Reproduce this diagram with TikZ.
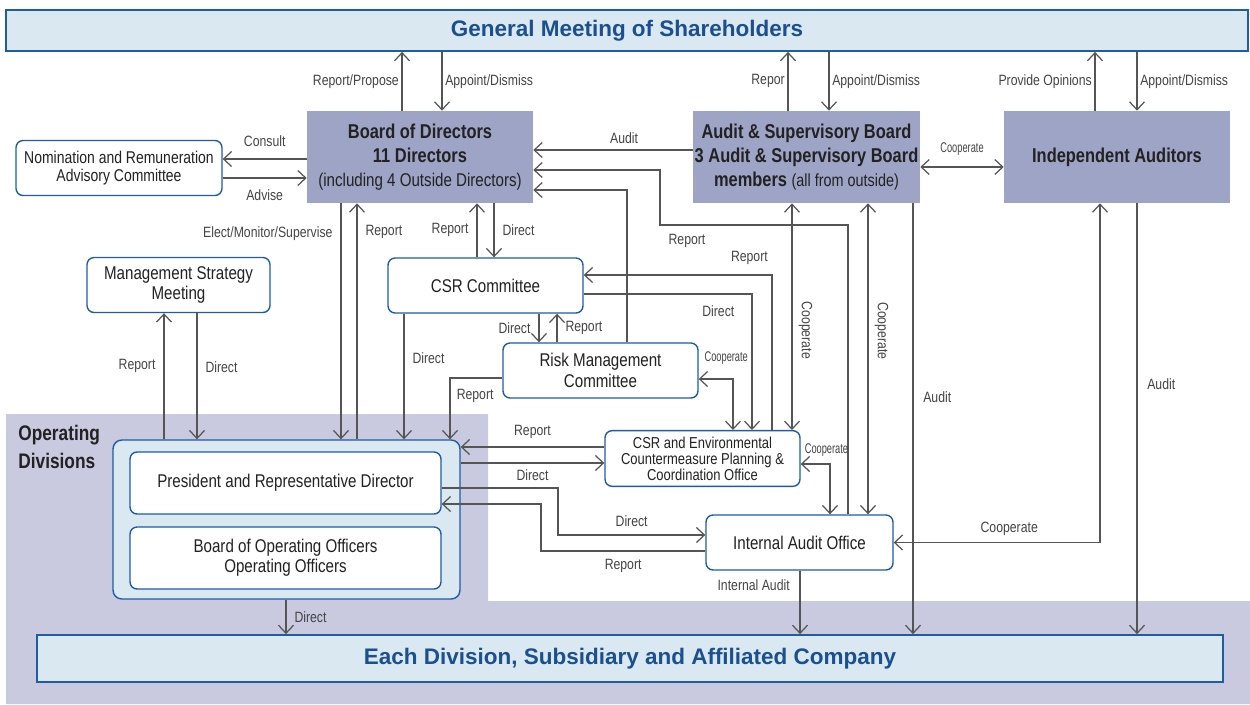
\documentclass[tikz,border=0pt]{standalone}
\usepackage{fontspec}
\setmainfont{Liberation Sans}[FakeStretch=0.82]
\newfontfamily\titlefont{Liberation Sans}
\newfontfamily\narrowfont{Liberation Sans}[FakeStretch=0.66]
\usetikzlibrary{arrows.meta,positioning}

\definecolor{hdrblue}{HTML}{1B4F8E}
\definecolor{hdrfill}{HTML}{D9E8F1}
\definecolor{boardfill}{HTML}{9EA4C6}
\definecolor{opsfill}{HTML}{C9CADF}
\definecolor{boxline}{HTML}{1F5CA3}
\definecolor{linegray}{HTML}{555555}
\definecolor{txtdark}{HTML}{222222}

\tikzset{
  hdr/.style={draw=boxline, line width=1pt, fill=hdrfill, text=hdrblue,
    font=\titlefont\bfseries\fontsize{12.8}{14}\selectfont},
  board/.style={fill=boardfill, text=txtdark, align=center, inner xsep=0.5pt,
    minimum height=1.84cm, font=\bfseries\fontsize{11.4}{13.6}\selectfont},
  unit/.style={draw=boxline, line width=0.8pt, fill=white, rounded corners=4pt,
    align=center, text=txtdark, minimum height=1.1cm,
    font=\fontsize{10.5}{11.6}\selectfont},
  opsbox/.style={draw=boxline, line width=0.8pt, fill=hdrfill, rounded corners=5pt},
  lbl/.style={font=\fontsize{8.5}{9}\selectfont, text=linegray!80!black, inner sep=1.5pt},
  lbls/.style={font=\narrowfont\fontsize{8}{9}\selectfont, text=linegray!80!black, inner sep=1pt},
  arr/.style={draw=linegray, line width=0.7pt, -{Straight Barb[length=1.6mm,width=3mm]}},
  arr2/.style={draw=linegray, line width=0.7pt,
    {Straight Barb[length=1.6mm,width=3mm]}-{Straight Barb[length=1.6mm,width=3mm]}},
}

\begin{document}
\begin{tikzpicture}[x=0.02cm, y=-0.02cm]
\useasboundingbox (0,0) rectangle (1250,704);

% operating divisions area
\fill[opsfill] (6,414) -- (488,414) -- (488,601) -- (1250,601) -- (1250,704) -- (6,704) -- cycle;
\node[anchor=north west, align=left, inner sep=0pt, text=txtdark,
  font=\bfseries\fontsize{12}{16}\selectfont] (opslbl) at (18,425) {Operating\\Divisions};

% top and bottom bars
\node[hdr, minimum width=24.84cm, minimum height=0.82cm] (gm) at (627,30.5) {General Meeting of Shareholders};
\node[hdr, minimum width=23.72cm, minimum height=0.94cm] (ediv) at (630,658.5) {Each Division, Subsidiary and Affiliated Company};

% boards
\node[board, minimum width=4.52cm] (bod) at (420,157)
  {Board of Directors\\11 Directors\\{\mdseries\fontsize{10.5}{13.6}\selectfont (including 4 Outside Directors)}};
\node[board, minimum width=4.54cm] (asb) at (806.5,157)
  {Audit \& Supervisory Board\\3 Audit \& Supervisory Board\\members {\mdseries\fontsize{10}{13.6}\selectfont (all from outside)}};
\node[board, minimum width=4.52cm] (ia) at (1117,157) {Independent Auditors};

% committees and offices
\node[unit, minimum width=4.12cm, font=\fontsize{9.7}{10.2}\selectfont] (nrac) at (119,168) {Nomination and Remuneration\\Advisory Committee};
\node[unit, minimum width=3.66cm] (msm) at (178.5,285) {Management Strategy\\Meeting};
\node[unit, minimum width=3.9cm] (csr) at (485.5,285.5) {CSR Committee};
\node[unit, minimum width=3.9cm] (rmc) at (600.5,370.5) {Risk Management\\Committee};
\node[unit, minimum width=3.9cm, font=\fontsize{9}{9.2}\selectfont] (csro) at (702.5,458.5) {CSR and Environmental\\Countermeasure Planning \&\\Coordination Office};
\node[unit, minimum width=3.74cm] (iao) at (799.5,542.5) {Internal Audit Office};

% operating divisions
\node[opsbox, minimum width=6.94cm, minimum height=3.18cm] (ops) at (286.5,519.5) {};
\node[unit, minimum width=6.22cm, minimum height=1.24cm] (pres) at (285.5,483) {President and Representative Director};
\node[unit, minimum width=6.22cm, minimum height=1.24cm] (boo) at (285.5,558) {Board of Operating Officers\\Operating Officers};

% shareholders
\draw[arr] (402,0 |- bod.north) -- (402,0 |- gm.south) node[lbl,midway,left] {Report/Propose};
\draw[arr] (442,0 |- gm.south) -- (442,0 |- bod.north) node[lbl,midway,right] {Appoint/Dismiss};
\draw[arr] (788,0 |- asb.north) -- (788,0 |- gm.south) node[lbl,midway,left] {Repor};
\draw[arr] (829,0 |- gm.south) -- (829,0 |- asb.north) node[lbl,midway,right] {Appoint/Dismiss};
\draw[arr] (1095,0 |- ia.north) -- (1095,0 |- gm.south) node[lbl,midway,left] {Provide Opinions};
\draw[arr] (1137,0 |- gm.south) -- (1137,0 |- ia.north) node[lbl,midway,right] {Appoint/Dismiss};

% board of directors
\draw[arr] (0,159 -| bod.west) -- (0,159 -| nrac.east) node[lbl,midway,above=5pt] {Consult};
\draw[arr] (0,178 -| nrac.east) -- (0,178 -| bod.west) node[lbl,midway,below=5pt] {Advise};
\draw[arr] (0,150 -| asb.west) -- (0,150 -| bod.east) node[lbl,pos=0.43,above=2pt] {Audit};
\draw[arr] (848,0 |- iao.north) |- (660,225) |- (0,170 -| bod.east);
\node[lbl] (iaorep) at (687,241) {Report};
\draw[arr] (627,0 |- rmc.north) |- (0,190 -| bod.east);
\draw[arr] (341,0 |- bod.south) -- (341,0 |- ops.north) node[lbl,pos=0.13,left=3pt] {Elect/Monitor/Supervise};
\draw[arr] (357,0 |- ops.north) -- (357,0 |- bod.south) node[lbl,pos=0.88,right=3pt] {Report};
\draw[arr] (477,0 |- csr.north) -- (477,0 |- bod.south) node[lbl,midway,left=3pt] {Report};
\draw[arr] (494,0 |- bod.south) -- (494,0 |- csr.north) node[lbl,midway,right=3pt] {Direct};

% committees
\draw[arr] (404,0 |- csr.south) -- (404,0 |- ops.north) node[lbl,pos=0.35,right=3pt] {Direct};
\draw[arr] (0,378 -| rmc.west) -| (450,0 |- ops.north) node[lbl,pos=0.65,right=2pt] {Report};
\draw[arr] (539,0 |- csr.south) -- (539,0 |- rmc.north) node[lbl,midway,left=3pt] {Direct};
\draw[arr] (557,0 |- rmc.north) -- (557,0 |- csr.south) node[lbl,midway,right=3pt] {Report};
\draw[arr] (772,0 |- csro.north) |- (0,275 -| csr.east) node[lbl,pos=0.56,above=4pt] {Report};
\draw[arr] (0,294 -| csr.east) -| (752,0 |- csro.north) node[lbl,pos=0.4,below=5pt] {Direct};
\draw[arr2] (0,379 -| rmc.east) -| (733,0 |- csro.north) node[lbls,pos=0,above right=7pt and 2pt] {Cooperate};
\draw[arr2] (0,464 -| csro.east) -| (830,0 |- iao.north) node[lbls,pos=0,above right=3pt and 1pt] {Cooperate};

% audit side
\draw[arr2] (asb.east |- 0,167) -- (ia.west |- 0,167) node[lbls,midway,above=5pt] {Cooperate};
\draw[arr2] (792,0 |- asb.south) -- (792,0 |- csro.north) node[lbl,pos=0.56,sloped,above=2pt] {Cooperate};
\draw[arr2] (868,0 |- asb.south) -- (868,0 |- iao.north) node[lbl,pos=0.41,sloped,above=2pt] {Cooperate};
\draw[arr] (913,0 |- asb.south) -- (913,0 |- ediv.north) node[lbl,pos=0.45,right=4pt] {Audit};
\draw[arr] (1137,0 |- ia.south) -- (1137,0 |- ediv.north) node[lbl,pos=0.42,right=4pt] {Audit};
\draw[arr2] (iao.east) -| (1100,0 |- ia.south) node[lbl,pos=0.28,above=2pt] {Cooperate};

% operating divisions
\draw[arr] (0,447 -| csro.west) -- (0,447 -| ops.east) node[lbl,midway,above=3pt] {Report};
\draw[arr] (0,463 -| ops.east) -- (0,463 -| csro.west) node[lbl,midway,below=2pt] {Direct};
\draw[arr] (0,488 -| pres.east) -| (558,535) -- (0,535 -| iao.west) node[lbl,midway,above=3pt] {Direct};
\draw[arr] (0,551 -| iao.west) -- (541,551) node[lbl,midway,below=3pt] {Report} |- (0,504 -| pres.east);
\draw[arr] (800,0 |- iao.south) -- (800,0 |- ediv.north) node[lbl,pos=0.23,left=4pt] {Internal Audit};
\draw[arr] (286,0 |- ops.south) -- (286,0 |- ediv.north) node[lbl,midway,right=3pt] {Direct};
\draw[arr] (164,0 |- ops.north) -- (164,0 |- msm.south) node[lbl,pos=0.58,left=3pt] {Report};
\draw[arr] (197,0 |- msm.south) -- (197,0 |- ops.north) node[lbl,pos=0.43,right=3pt] {Direct};
\end{tikzpicture}
\end{document}
